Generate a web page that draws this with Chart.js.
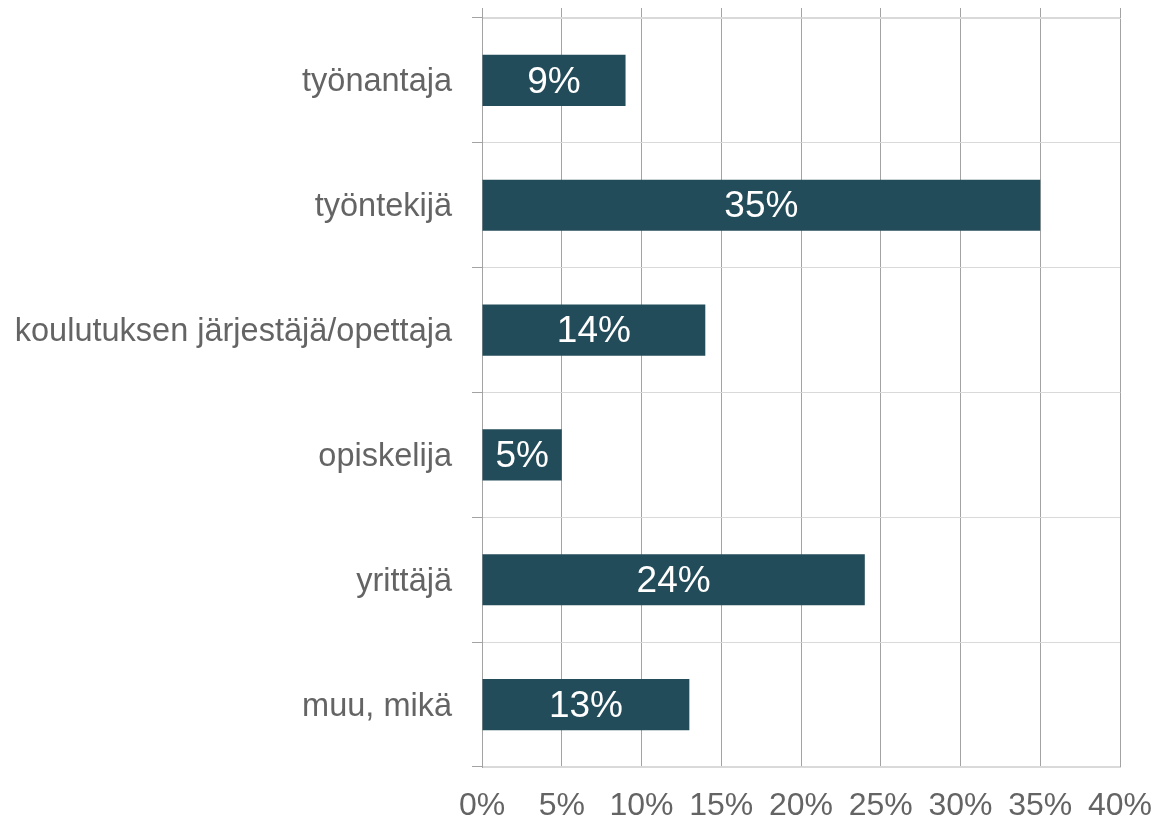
<!DOCTYPE html>
<html>
<head>
<meta charset="utf-8">
<script src="https://cdn.jsdelivr.net/npm/chart.js@4"></script>
<style>
  html, body { margin: 0; padding: 0; background: #fff; }
  #wrap { width: 1157px; height: 819px; }
</style>
</head>
<body>
<div id="wrap"><canvas id="barChart"></canvas></div>
<script>
// Values
const roles = ['työnantaja', 'työntekijä', 'koulutuksen järjestäjä/opettaja', 'opiskelija', 'yrittäjä', 'muu, mikä'];
const shares = [9, 35, 14, 5, 24, 13];
const xTicks = [0, 5, 10, 15, 20, 25, 30, 35, 40];

const textGray = '#646464';
const gridDark = '#a3a3a3';
const gridLight = '#d9d9d9';

// white value labels centred in each bar
const barLabels = {
  id: 'barLabels',
  afterDatasetsDraw(chart) {
    const ctx = chart.ctx;
    const meta = chart.getDatasetMeta(0);
    ctx.save();
    ctx.fillStyle = '#ffffff';
    ctx.font = '37px "Liberation Sans", Arial, sans-serif';
    ctx.textAlign = 'center';
    ctx.textBaseline = 'middle';
    meta.data.forEach((bar, i) => {
      const cx = (bar.x + bar.base) / 2;
      ctx.fillText(shares[i] + '%', cx, bar.y + 2);
    });
    ctx.restore();
  }
};

new Chart(document.getElementById('barChart').getContext('2d'), {
  type: 'bar',
  data: {
    labels: roles,
    datasets: [{
      data: shares,
      backgroundColor: '#234C5A',
      barPercentage: 0.41,
      categoryPercentage: 1
    }]
  },
  plugins: [barLabels],
  options: {
    indexAxis: 'y',
    responsive: true,
    maintainAspectRatio: false,
    animation: false,
    layout: { padding: { top: 8, right: 37, bottom: 0, left: 0 } },
    scales: {
      x: {
        position: 'bottom',
        min: 0,
        max: 40,
        afterBuildTicks: s => { s.ticks = xTicks.map(v => ({ value: v })); },
        afterFit: s => { s.height = 52; s.paddingLeft = 0; s.paddingRight = 0; },
        ticks: {
          color: textGray,
          font: { family: '"Liberation Sans", Arial, sans-serif', size: 32, lineHeight: 1 },
          padding: 23,
          maxRotation: 0,
          callback: v => v + '%'
        },
        grid: { color: gridDark, drawTicks: false },
        border: { color: gridLight }
      },
      xTop: {
        position: 'top',
        min: 0,
        max: 40,
        afterBuildTicks: s => { s.ticks = xTicks.map(v => ({ value: v })); },
        afterFit: s => { s.height = 10; s.paddingLeft = 0; s.paddingRight = 0; },
        ticks: { display: false },
        grid: { color: gridDark, drawOnChartArea: false, tickLength: 10 },
        border: { color: gridLight }
      },
      y: {
        afterFit: s => { s.width = 482; s.paddingTop = 0; s.paddingBottom = 0; },
        ticks: {
          color: textGray,
          font: { family: '"Liberation Sans", Arial, sans-serif', size: 32.5 },
          padding: 20,
          labelOffset: 2
        },
        grid: { offset: true, color: gridLight, tickColor: gridDark, tickLength: 10 },
        border: { color: gridDark }
      }
    },
    plugins: {
      legend: { display: false },
      tooltip: { enabled: false }
    }
  }
});
</script>
</body>
</html>
